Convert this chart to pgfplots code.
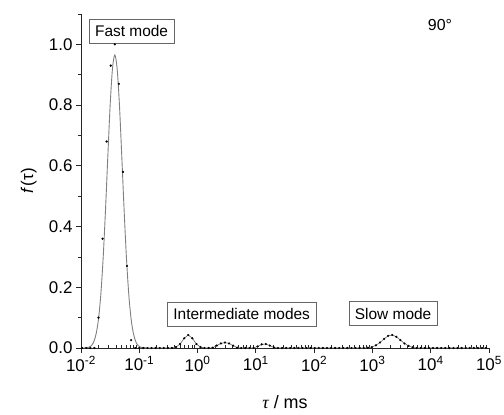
\documentclass[border=0pt]{standalone}
\usepackage{fontspec}
\setmainfont{Liberation Sans}
\newfontfamily\serifgreek{Liberation Serif}
\usepackage{pgfplots}
\usepackage{pgfplotstable}
\pgfplotsset{compat=1.18}

\tikzset{box/.style={draw=black!60, line width=0.7bp, fill=white,
    inner xsep=6bp, inner ysep=6.3bp, text height=11.5bp, text depth=0bp,
    font=\fontsize{15.5}{18}\selectfont}}

% distribution points, x = log10(tau/ms)
\pgfplotstableread{
lt f
-1.98 0
-1.91 0
-1.84 0
-1.77 0
-1.70 0.10
-1.63 0.36
-1.56 0.68
-1.49 0.93
-1.42 1.00
-1.35 0.87
-1.28 0.58
-1.21 0.27
-1.14 0.026
-1.07 0
-1.00 0
-0.93 0
-0.86 0
-0.79 0
-0.72 0
-0.65 0
-0.58 0
-0.51 0
-0.44 0
-0.37 0.003
-0.30 0.013
-0.23 0.032
-0.16 0.043
-0.09 0.032
-0.02 0.013
0.05 0.003
0.12 0
0.19 0
0.26 0.001
0.33 0.008
0.40 0.015
0.47 0.018
0.54 0.015
0.61 0.008
0.68 0.001
0.75 0
0.82 0
0.89 0
0.96 0
1.03 0.005
1.10 0.012
1.17 0.013
1.24 0.008
1.31 0.002
1.38 0
1.45 0
1.52 0
1.59 0
1.66 0
1.73 0
1.80 0
1.87 0
1.94 0
2.01 0
2.08 0
2.15 0
2.22 0
2.29 0
2.36 0
2.43 0
2.50 0
2.57 0
2.64 0
2.71 0
2.78 0
2.85 0
2.92 0.001
2.99 0.003
3.06 0.009
3.13 0.018
3.20 0.030
3.27 0.040
3.34 0.043
3.41 0.037
3.48 0.026
3.55 0.015
3.62 0.007
3.69 0.002
3.76 0
3.83 0
3.90 0
3.97 0
4.04 0
4.11 0
4.18 0
4.25 0
4.32 0
4.39 0
4.46 0
4.53 0
4.60 0
4.67 0
4.74 0
4.81 0
4.88 0
4.95 0
}\dists

% fitted curve of the fast mode
\pgfplotstableread{
lt f
-1.96 0
-1.90 0.001
-1.86 0.003
-1.82 0.008
-1.78 0.021
-1.74 0.047
-1.70 0.095
-1.66 0.176
-1.62 0.296
-1.58 0.453
-1.54 0.630
-1.50 0.799
-1.46 0.920
-1.42 0.965
-1.38 0.920
-1.34 0.799
-1.30 0.630
-1.26 0.453
-1.22 0.296
-1.18 0.176
-1.14 0.095
-1.10 0.047
-1.06 0.021
-1.02 0.008
-0.98 0.003
-0.94 0.001
-0.88 0
}\fastfit

\begin{document}
\begin{tikzpicture}
\useasboundingbox (-81bp,-67bp) rectangle (423bp,348bp);
\begin{axis}[
  at={(0,0)}, anchor=south west,
  scale only axis, width=408bp, height=334bp,
  xmin=-2, xmax=5, ymin=0, ymax=1.1,
  axis x line=bottom, axis y line=left,
  axis line style={-, line width=0.9bp, black!85},
  every tick/.style={line width=0.8bp, black!85},
  tick align=outside,
  major tick length=5bp, minor tick length=3bp,
  minor x tick style={yshift=3bp},
  xtick={-2,-1,0,1,2,3,4,5},
  xticklabels={10\textsuperscript{-2},10\textsuperscript{-1},10\textsuperscript{0},
    10\textsuperscript{1},10\textsuperscript{2},10\textsuperscript{3},
    10\textsuperscript{4},10\textsuperscript{5}},
  minor xtick={-1.699,-1.523,-1.398,-1.301,-1.222,-1.155,-1.097,-1.046,
    -0.699,-0.523,-0.398,-0.301,-0.222,-0.155,-0.097,-0.046,
    0.301,0.477,0.602,0.699,0.778,0.845,0.903,0.954,
    1.301,1.477,1.602,1.699,1.778,1.845,1.903,1.954,
    2.301,2.477,2.602,2.699,2.778,2.845,2.903,2.954,
    3.301,3.477,3.602,3.699,3.778,3.845,3.903,3.954,
    4.301,4.477,4.602,4.699,4.778,4.845,4.903,4.954},
  ytick={0,0.2,0.4,0.6,0.8,1.0},
  minor ytick={0.1,0.3,0.5,0.7,0.9,1.1},
  yticklabel style={/pgf/number format/.cd, fixed, fixed zerofill, precision=1,
    assume math mode=true},
  ticklabel style={font=\fontsize{17}{19}\selectfont},
  xlabel={{\serifgreek\itshape τ} / ms},
  ylabel={{\itshape f}\,(τ)},
  xlabel style={at={(axis description cs:0.5,-0.162)}, anchor=center,
    font=\fontsize{18}{20}\selectfont},
  ylabel style={at={(axis description cs:-0.128,0.5)}, anchor=center,
    font=\fontsize{17}{20}\selectfont},
  clip=false,
]
\addplot[gray, line width=0.9bp, smooth] table[x=lt, y=f] {\fastfit};
\addplot[gray!80!black, line width=0.6bp, restrict x to domain=-1.06:5]
  table[x=lt, y=f] {\dists};
\addplot[only marks, mark=*, mark size=0.9bp, black] table[x=lt, y=f] {\dists};

\node[box] at (axis cs:-1.132,1.044) {Fast mode};
\node[box] at (axis cs:0.757,0.112) {Intermediate modes};
\node[box] at (axis cs:3.355,0.114) {Slow mode};
\node[font=\fontsize{16}{18}\selectfont] at (axis cs:4.16,1.064) {90°};
\end{axis}
\end{tikzpicture}
\end{document}
